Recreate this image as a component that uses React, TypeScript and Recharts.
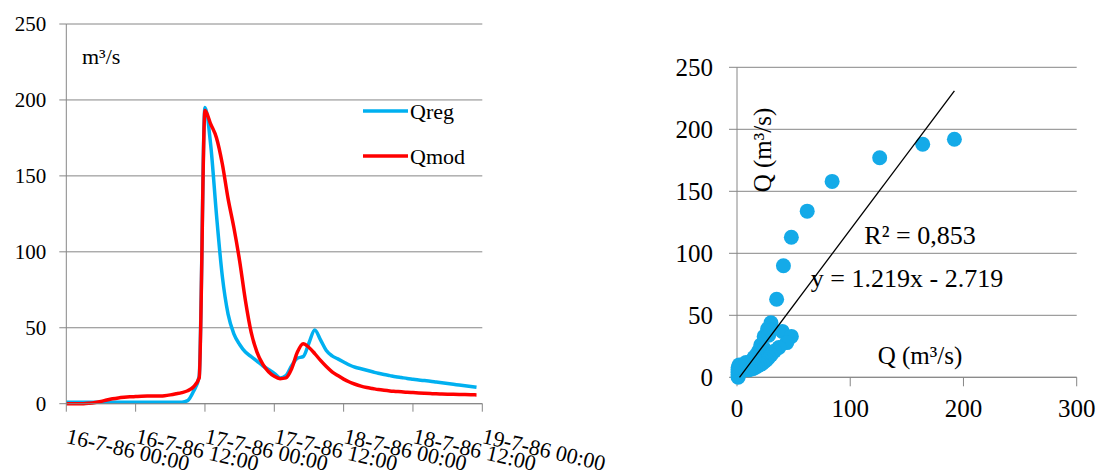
import React from 'react'
import {
  LineChart,
  Line,
  XAxis,
  YAxis,
  CartesianGrid,
  ScatterChart,
  Scatter,
} from 'recharts'

const FONT = 'Liberation Serif, Times New Roman, serif'
const GRID = '#868686'
const BLUE = '#00b0f0'
const RED = '#ff0000'

// hours since 16-7-86 00:00
const hours = [
  0, 1, 2, 3, 4, 5, 6, 7, 8, 9, 10, 11, 12, 13, 14, 15, 16, 17, 18, 19, 20, 21, 22, 23,
  24, 25, 26, 27, 28, 29, 30, 31, 32, 33, 34, 35, 36, 37, 38, 39, 40, 41, 42, 43, 44, 45, 46, 47,
  48, 49, 50, 51, 52, 53, 54, 55, 56, 57, 58, 59, 60, 61, 62, 63, 64, 65, 66, 67, 68, 69, 70, 71,
]

const qreg = [
  1, 1, 1, 1, 1, 1, 1, 1, 1, 1, 1, 1, 1, 1, 1, 1, 1, 1, 1, 1, 1, 2, 8, 18,
  195, 170, 124, 84, 59, 46, 39, 34, 31, 28, 25, 22.5, 20, 17, 18.5, 25, 30, 31, 40, 48.5, 42, 35, 31.5, 29.5,
  27.5, 25.5, 24, 23, 22, 21, 20, 19.2, 18.5, 17.8, 17.2, 16.6, 16.1, 15.6, 15.2, 14.8, 14.3, 13.8, 13.3, 12.8, 12.3, 11.8, 11.3, 10.8,
]

const qmod = [
  0, 0, 0, 0, 0.3, 0.8, 1.5, 2.4, 3.2, 3.8, 4.2, 4.5, 4.7, 4.9, 5, 5, 5.1, 5.3, 5.8, 6.5, 7.3, 8.5, 11, 17,
  193, 184, 175, 158, 135, 116, 94, 68, 47, 34, 26, 21, 18, 16.5, 17, 23, 34, 39.5, 37, 33, 28.5, 24.5, 21, 18.5,
  16.2, 14.3, 12.8, 11.6, 10.7, 10, 9.3, 8.8, 8.4, 8.1, 7.8, 7.5, 7.3, 7.1, 6.9, 6.7, 6.5, 6.4, 6.3, 6.2, 6.1, 6.0, 5.9, 5.8,
]

const xTicks = [0, 12, 24, 36, 48, 60, 72]
const xTickLabels = [
  '16-7-86 00:00',
  '16-7-86 12:00',
  '17-7-86 00:00',
  '17-7-86 12:00',
  '18-7-86 00:00',
  '18-7-86 12:00',
  '19-7-86 00:00',
]
const qTicks = [0, 50, 100, 150, 200, 250]

// scatter: observed Q (x) vs modelled Q (y)
const scatterX = [
  192, 164, 126, 84, 62, 48, 41, 35, 30, 27, 24, 21, 19, 17, 16, 18, 24, 28, 30, 40, 48, 44, 37,
  33, 30, 28, 26, 24, 22, 20, 18, 16, 14, 12, 10, 1, 1, 1, 1, 1, 1, 1, 2, 8, 15,
]
const scatterY = [
  192, 188, 177, 158, 134, 113, 90, 63, 44, 39, 33, 26, 21, 18, 16, 17, 23, 34, 38, 37, 33, 28, 24,
  21, 18, 16, 14, 12.5, 11, 10, 9, 8, 7, 6.5, 6, 0, 1, 2.5, 4, 5, 6.5, 8, 10, 12, 16,
]
// trendline end points (y = 1.219x - 2.719)
const trendX = [2.2, 192]
const trendY = [0, 231]
const scatterXTicks = [0, 100, 200, 300]

const seriesData = hours.map((h, i) => ({ h, qreg: qreg[i], qmod: qmod[i] }))
const points = scatterX.map((x, i) => ({ x, y: scatterY[i] }))
const trend = trendX.map((x, i) => ({ x, y: trendY[i] }))

const legendItems = [
  { name: 'Qreg', color: BLUE },
  { name: 'Qmod', color: RED },
]

const txt = (size: number) => ({ fontFamily: FONT, fontSize: size, fill: '#000' })

const DateTick = (props: any) => {
  const { x, y, payload } = props
  const i = xTicks.indexOf(payload.value)
  return (
    <g transform={`translate(${x - 1},${y + 29}) rotate(13)`}>
      <text x={0} y={0} textAnchor="start" style={txt(22)}>
        {xTickLabels[i]}
      </text>
    </g>
  )
}

const YTick = (props: any) => {
  const { x, y, payload, size } = props
  return (
    <text x={x} y={y} dy="0.35em" textAnchor="end" style={txt(size)}>
      {payload.value}
    </text>
  )
}

const XTick = (props: any) => {
  const { x, y, payload } = props
  return (
    <text x={x} y={y} dy="0.71em" textAnchor="middle" style={txt(25)}>
      {payload.value}
    </text>
  )
}

const Hydrograph = () => (
  <LineChart
    width={620}
    height={474}
    data={seriesData}
    margin={{ top: 24, right: 137.7, bottom: 0, left: 0 }}
  >
    <CartesianGrid stroke={GRID} vertical={false} />
    <XAxis
      dataKey="h"
      type="number"
      domain={[0, 72]}
      ticks={xTicks}
      interval={0}
      height={70.3}
      stroke={GRID}
      tickSize={8}
      tick={<DateTick />}
    />
    <YAxis
      type="number"
      domain={[0, 250]}
      ticks={qTicks}
      width={66.3}
      stroke={GRID}
      tickSize={7}
      tickMargin={13}
      tick={<YTick size={21} />}
    />
    <Line
      dataKey="qreg"
      name="Qreg"
      type="monotone"
      stroke={BLUE}
      strokeWidth={3.5}
      dot={false}
      isAnimationActive={false}
    />
    <Line
      dataKey="qmod"
      name="Qmod"
      type="monotone"
      stroke={RED}
      strokeWidth={3.5}
      dot={false}
      isAnimationActive={false}
    />
  </LineChart>
)

const Correlation = () => (
  <ScatterChart
    width={449}
    height={474}
    margin={{ top: 67.3, right: 22.3, bottom: 56.7, left: 0 }}
  >
    <CartesianGrid stroke={GRID} vertical={false} />
    <XAxis
      dataKey="x"
      type="number"
      domain={[0, 300]}
      ticks={scatterXTicks}
      height={40}
      stroke={GRID}
      tickSize={9}
      tickMargin={13}
      tick={<XTick />}
    />
    <YAxis
      dataKey="y"
      type="number"
      domain={[0, 250]}
      ticks={qTicks}
      width={87}
      stroke={GRID}
      tickSize={8}
      tickMargin={16}
      tick={<YTick size={25} />}
    />
    <Scatter
      data={points}
      fill={BLUE}
      isAnimationActive={false}
      shape={(p: any) => <circle cx={p.cx} cy={p.cy} r={7.5} fill="#14aae8" />}
    />
    <Scatter
      data={trend}
      line={{ stroke: '#000', strokeWidth: 1.3 }}
      lineType="joint"
      isAnimationActive={false}
      shape={() => <g />}
    />
  </ScatterChart>
)

export default function App() {
  return (
    <div
      style={{
        position: 'absolute',
        left: 0,
        top: 0,
        width: 1099,
        height: 474,
        background: '#fff',
        overflow: 'hidden',
        fontFamily: FONT,
      }}
    >
      <div style={{ position: 'absolute', left: 0, top: 0 }}>
        <Hydrograph />
      </div>
      <div style={{ position: 'absolute', left: 650, top: 0 }}>
        <Correlation />
      </div>
      <svg
        width={1099}
        height={474}
        style={{ position: 'absolute', left: 0, top: 0, pointerEvents: 'none' }}
      >
        <text x={82} y={64} style={txt(22)}>
          m³/s
        </text>
        {legendItems.map((it, i) => (
          <g key={it.name}>
            <line x1={363} y1={111 + i * 45} x2={408} y2={111 + i * 45} stroke={it.color} strokeWidth={3.5} />
            <text x={410} y={111 + i * 45} dy="0.35em" style={txt(22)}>
              {it.name}
            </text>
          </g>
        ))}
        <text transform="translate(762,150) rotate(-90)" textAnchor="middle" dy="0.35em" style={txt(25)}>
          Q (m³/s)
        </text>
        <text x={920} y={244} textAnchor="middle" style={txt(26)}>
          R² = 0,853
        </text>
        <text x={907} y={287} textAnchor="middle" style={txt(26)}>
          y = 1.219x - 2.719
        </text>
        <text x={920} y={364} textAnchor="middle" style={txt(25)}>
          Q (m³/s)
        </text>
      </svg>
    </div>
  )
}
